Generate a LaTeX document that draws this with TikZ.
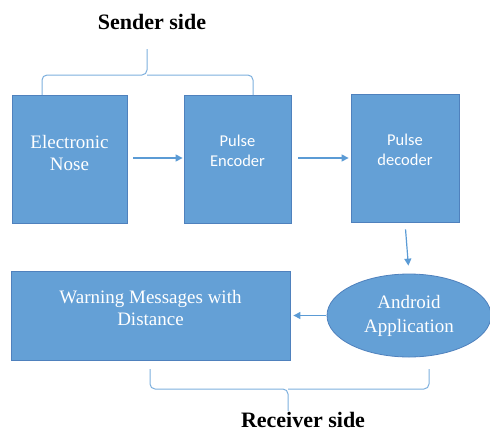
\documentclass[tikz,border=0pt]{standalone}
\usepackage{fontspec}
\setmainfont{Liberation Serif}
\newfontfamily\calibri{Carlito}
\usetikzlibrary{arrows.meta,shapes.geometric}

\definecolor{boxfill}{HTML}{64A0D6}
\definecolor{boxline}{HTML}{4F81BD}
\definecolor{linkcol}{HTML}{5B9BD5}

\tikzset{
  block/.style={draw=boxline, line width=0.8pt, fill=boxfill, rectangle, inner sep=0pt},
  oval/.style={draw=boxline, line width=0.8pt, fill=boxfill, ellipse, inner sep=0pt,
    minimum width=164pt, minimum height=83pt, text=white, align=center,
    font=\fontsize{19}{24}\selectfont},
  seriftxt/.style={text=white, align=center, font=\fontsize{19}{22.5}\selectfont},
  sanstxt/.style={text=white, align=center, font=\calibri\fontsize{16.5}{20}\selectfont},
  heading/.style={font=\bfseries\fontsize{22}{26}\selectfont, text=black},
  link/.style={draw=linkcol, line width=1.2pt, -{Triangle[length=7pt,width=7pt]}},
  bracket/.style={draw=linkcol!80, line width=1pt, rounded corners=5pt}
}

\begin{document}
\begin{tikzpicture}[x=1pt, y=-1pt]
  \useasboundingbox (0,0) rectangle (490,432);

  % sender side blocks
  \node[block, minimum width=115pt, minimum height=128pt] (nose) at (69.5,159) {};
  \node[seriftxt] (nosetxt) at (69.5,153) {Electronic\\Nose};

  \node[block, minimum width=107pt, minimum height=128pt] (enc) at (237.5,159) {};
  \node[sanstxt] (enctxt) at (237.5,151) {Pulse\\Encoder};

  \node[block, minimum width=108pt, minimum height=128pt] (dec) at (405,158) {};
  \node[sanstxt] (dectxt) at (405,150) {Pulse\\decoder};

  % receiver side blocks
  \node[block, minimum width=279pt, minimum height=89pt] (warn) at (150.5,315.5) {};
  \node[seriftxt] (warntxt) at (150.5,308) {Warning Messages with\\Distance};

  \node[oval] (app) at (409,315.5) {Android\\Application};

  % signal flow
  \draw[link, shorten <=6pt, shorten >=1pt] (nose.east |- 0,158) -- (enc.west |- 0,158);
  \draw[link, shorten <=7pt, shorten >=2pt] (enc.east |- 0,158) -- (dec.west |- 0,158);
  \draw[link, shorten <=7pt, shorten >=8pt] (dec.south) -- (app.north);
  \draw[link, shorten <=1pt, shorten >=3pt] (app.west) -- (warn.east |- app.west);

  % brackets with their captions
  \node[heading] (sender) at (152,22) {Sender side};
  \coordinate (stip) at (147,49);
  \draw[bracket] (42,95) |- (147,75) -- (stip);
  \draw[bracket] (253,95) |- (147,75);

  \node[heading] (receiver) at (303,420) {Receiver side};
  \coordinate (rtip) at (288,411);
  \draw[bracket] (150,369) |- (288,389) -- (rtip);
  \draw[bracket] (429,369) |- (288,389);
\end{tikzpicture}
\end{document}
